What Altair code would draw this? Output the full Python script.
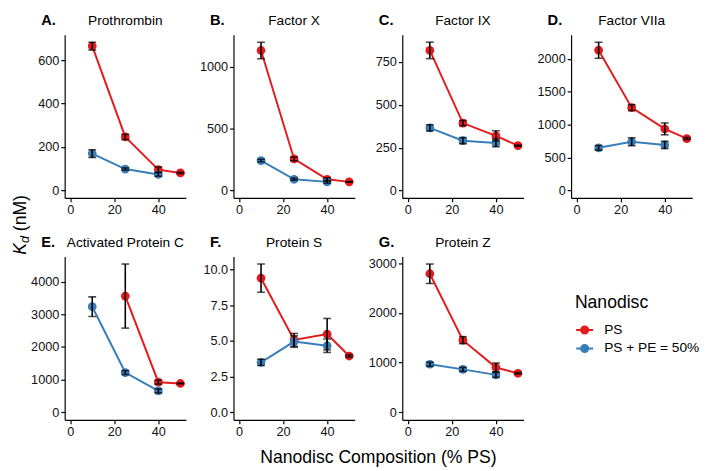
import altair as alt
import pandas as pd

FONT = "Liberation Sans"
SERIES = ["PS", "PS + PE = 50%"]
COLORS = ["#E41A1C", "#377EB8"]

x_ps = [10, 25, 40, 50]
x_pe = [10, 25, 40]

panels = ["Prothrombin", "Factor X", "Factor IX", "Factor VIIa",
          "Activated Protein C", "Protein S", "Protein Z"]
letters = ["A.", "B.", "C.", "D.", "E.", "F.", "G."]

prothrombin_ps = [665, 247, 96, 81]
prothrombin_ps_err = [18, 12, 12, 3]
prothrombin_pe = [170, 99, 74]
prothrombin_pe_err = [18, 5, 8]

factorx_ps = [1130, 255, 91, 70]
factorx_ps_err = [67, 15, 12, 3]
factorx_pe = [242, 91, 70]
factorx_pe_err = [10, 8, 10]

factorix_ps = [818, 394, 319, 262]
factorix_ps_err = [48, 15, 30, 3]
factorix_pe = [366, 291, 278]
factorix_pe_err = [18, 18, 22]

factorviia_ps = [2132, 1259, 937, 790]
factorviia_ps_err = [122, 45, 90, 15]
factorviia_pe = [649, 741, 693]
factorviia_pe_err = [35, 60, 55]

apc_x_ps = [25, 40, 50]
apc_ps = [3558, 924, 885]
apc_ps_err = [980, 60, 15]
apc_pe = [3233, 1219, 658]
apc_pe_err = [300, 60, 60]

proteins_ps = [9.4, 5.08, 5.48, 3.95]
proteins_ps_err = [0.99, 0.45, 1.1, 0.08]
proteins_pe = [3.5, 4.96, 4.67]
proteins_pe_err = [0.22, 0.4, 0.47]

proteinz_ps = [2787, 1452, 903, 787]
proteinz_ps_err = [195, 70, 90, 15]
proteinz_pe = [968, 865, 755]
proteinz_pe_err = [40, 40, 50]

y_ticks = {
    "Prothrombin": [0, 200, 400, 600],
    "Factor X": [0, 250, 500, 750, 1000, 1250],
    "Factor IX": [0, 250, 500, 750],
    "Factor VIIa": [0, 500, 1000, 1500, 2000],
    "Activated Protein C": [0, 1000, 2000, 3000, 4000],
    "Protein S": [0, 2.5, 5, 7.5, 10],
    "Protein Z": [0, 1000, 2000, 3000],
}
x_ticks = [0, 10, 20, 30, 40, 50]

series_data = {
    "Prothrombin": [(x_ps, prothrombin_ps, prothrombin_ps_err), (x_pe, prothrombin_pe, prothrombin_pe_err)],
    "Factor X": [(x_ps, factorx_ps, factorx_ps_err), (x_pe, factorx_pe, factorx_pe_err)],
    "Factor IX": [(x_ps, factorix_ps, factorix_ps_err), (x_pe, factorix_pe, factorix_pe_err)],
    "Factor VIIa": [(x_ps, factorviia_ps, factorviia_ps_err), (x_pe, factorviia_pe, factorviia_pe_err)],
    "Activated Protein C": [(apc_x_ps, apc_ps, apc_ps_err), (x_pe, apc_pe, apc_pe_err)],
    "Protein S": [(x_ps, proteins_ps, proteins_ps_err), (x_pe, proteins_pe, proteins_pe_err)],
    "Protein Z": [(x_ps, proteinz_ps, proteinz_ps_err), (x_pe, proteinz_pe, proteinz_pe_err)],
}

rows = []
for p in panels:
    for s, (xs, ys, es) in zip(SERIES, series_data[p]):
        for xv, yv, ev in zip(xs, ys, es):
            rows.append({"panel": p, "series": s, "x": xv, "y": yv,
                         "lo": yv - ev, "hi": yv + ev})
df = pd.DataFrame(rows)

W, H = 124, 167
SYMBOL = "M-1,0L1,0M0.42,0A0.42,0.42 0 1,1 -0.42,0A0.42,0.42 0 1,1 0.42,0Z"

color = alt.Color(
    "series:N",
    scale=alt.Scale(domain=SERIES, range=COLORS),
    legend=alt.Legend(
        title="Nanodisc", orient="none", legendX=522, legendY=266,
        titleFontSize=18, titleFontWeight="normal", titleFont=FONT,
        titleColor="black", labelFontSize=14, labelFont=FONT, labelColor="black",
        symbolType=SYMBOL, symbolSize=300, symbolStrokeWidth=2,
        rowPadding=1, titlePadding=8, labelOffset=10, padding=0,
    ),
)


def txt(t, **kw):
    return alt.Chart(pd.DataFrame({"t": [t]})).mark_text(
        font=FONT, color="black", baseline="alphabetic", **kw)


def make_panel(idx):
    name = panels[idx]
    d = df[df.panel == name]
    ymax = float(d.hi.max())
    dom = [-0.05 * ymax, 1.05 * ymax]
    fmt = ".1f" if name == "Protein S" else "d"
    x = alt.X("x:Q", scale=alt.Scale(domain=[-2.5, 52.5], nice=False, zero=False),
              axis=alt.Axis(values=x_ticks, title=None, format="d"))
    y = alt.Y("y:Q", scale=alt.Scale(domain=dom, nice=False, zero=False),
              axis=alt.Axis(values=y_ticks[name], title=None, format=fmt))
    base = alt.Chart(d)
    line = base.mark_line(strokeWidth=2).encode(x=x, y=y, color=color)
    pts = base.mark_point(filled=True, size=80, opacity=1).encode(x=x, y=y, color=color)
    rule = base.mark_rule(color="black", strokeWidth=1.6).encode(
        x="x:Q", y="lo:Q", y2="hi:Q")
    cap_lo = base.mark_tick(color="black", thickness=1.6, size=8, orient="horizontal").encode(
        x="x:Q", y="lo:Q")
    cap_hi = base.mark_tick(color="black", thickness=1.6, size=8, orient="horizontal").encode(
        x="x:Q", y="hi:Q")
    title_t = txt(name, fontSize=14, align="center").encode(
        text="t:N", x=alt.value(W / 2), y=alt.value(-10))
    letter_t = txt(letters[idx], fontSize=15, fontWeight="bold", align="left").encode(
        text="t:N", x=alt.value(-24), y=alt.value(-10))
    layers = [line, pts, rule, cap_lo, cap_hi, title_t, letter_t]
    if idx == 0:
        k = txt("K", fontSize=18, fontStyle="italic", angle=270, align="left").encode(
            text="t:N", x=alt.value(-40), y=alt.value(225))
        sub = txt("d", fontSize=13, fontStyle="italic", angle=270, align="left").encode(
            text="t:N", x=alt.value(-37), y=alt.value(213))
        nm = txt("(nM)", fontSize=18, angle=270, align="left").encode(
            text="t:N", x=alt.value(-40), y=alt.value(201))
        layers += [k, sub, nm]
    if idx == 4:
        xt = txt("Nanodisc Composition (% PS)", fontSize=18, align="center").encode(
            text="t:N", x=alt.value(321), y=alt.value(211))
        layers.append(xt)
    return alt.layer(*layers).properties(width=W, height=H)


chart = alt.concat(
    *[make_panel(i) for i in range(7)], columns=4,
    spacing={"row": 60, "column": 48.7}, bounds="flush",
).properties(padding={"left": 4, "top": 0, "right": 0, "bottom": 0}).resolve_scale(
    color="shared"
).configure_view(stroke=None).configure_axis(
    grid=False, domainColor="black", domainWidth=1.2, tickColor="black",
    tickSize=4, tickWidth=1.2, labelColor="#111111", labelFont=FONT,
    labelFontSize=13, labelPadding=2,
)

chart.save("out.html", embed_options={"renderer": "svg", "actions": False})
